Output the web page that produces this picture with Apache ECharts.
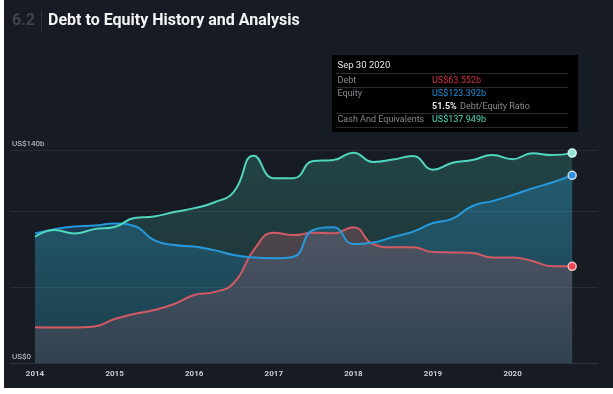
<!DOCTYPE html>
<html><head><meta charset="utf-8">
<script src="https://cdn.jsdelivr.net/npm/echarts@6/dist/echarts.min.js"></script>
<style>html,body{margin:0;padding:0;background:#ffffff;}#c{position:absolute;left:4px;top:0;width:609px;height:388px;}</style>
</head><body><div id="c"></div><script>
// ---- data (US$ billions, quarterly) ----
const dates = ['2013-12-31','2014-03-31','2014-06-30','2014-09-30','2014-12-31','2015-03-31','2015-06-30','2015-09-30',
  '2015-12-31','2016-03-31','2016-06-30','2016-09-30','2016-12-31','2017-03-31','2017-06-30','2017-09-30',
  '2017-12-31','2018-03-31','2018-06-30','2018-09-30','2018-12-31','2019-03-31','2019-06-30','2019-09-30',
  '2019-12-31','2020-03-31','2020-06-30','2020-09-30'];
const debt = [23.5,23.3,23.3,24.0,28.9,32.2,34.8,38.8,44.7,46.6,52.6,74.2,85.6,84.1,85.6,85.2,89.2,78.2,76.0,76.0,72.9,72.7,72.3,69.4,69.4,67.0,63.6,63.552];
const equity = [85.2,88.0,89.7,90.3,91.7,90.0,80.8,77.5,76.5,74.2,71.0,69.3,68.8,69.8,87.4,89.2,78.2,79.2,82.8,86.3,92.0,94.9,103.2,106.4,110.4,114.8,118.6,123.392];
const cash = [83.0,87.4,85.1,88.0,89.4,95.3,96.3,99.2,101.8,105.5,112.5,136.3,121.5,121.5,132.7,133.4,138.2,132.1,133.7,136.0,127.1,131.6,133.4,136.7,134.0,137.8,136.7,137.949];
const yearTicks = [2014,2015,2016,2017,2018,2019,2020];
const yTickLabels = {0:'US$0', 140:'US$140b'};
const titleNum = '6.2';
const titleText = 'Debt to Equity History and Analysis';

// ---- helpers ----
function decYear(s){
  const d = new Date(s + 'T00:00:00Z');
  const y = d.getUTCFullYear();
  const start = Date.UTC(y,0,1), end = Date.UTC(y+1,0,1);
  return y + (d.getTime() - start + 86400000) / (end - start);
}
const xs = dates.map(decYear);
function pairs(arr, color){
  return arr.map((v,i)=> i === arr.length-1
    ? {value:[xs[i],v], symbol:'circle', symbolSize:8, itemStyle:{color:color.dot, borderColor:color.border, borderWidth:1.5}}
    : [xs[i],v]);
}
const C = {
  cash:{line:'#4fd6bd', dot:'#8fe6d6', border:'#d8f4ee'},
  equity:{line:'#2599dc', dot:'#2a8fe0', border:'#c9d9ea'},
  debt:{line:'#d35a64', dot:'#f0414d', border:'#f3c4c6'}
};
const SM = 0.5;
function grad(top, bottom){
  return new echarts.graphic.LinearGradient(0,0,0,1,[{offset:0,color:top},{offset:1,color:bottom}]);
}
function areaSeries(name, arr, fill){
  return {name:name+'_a', type:'line', data:arr.map((v,i)=>[xs[i],v]), smooth:SM,
    symbol:'none', lineStyle:{width:0}, areaStyle:{color:fill, opacity:1}, silent:true, z:1};
}
function lineSeries(name, arr, col, z){
  return {name:name, type:'line', data:pairs(arr,col), smooth:SM,
    symbol:'none', lineStyle:{width:2, color:col.line}, itemStyle:{color:col.line}, z:z};
}
const last = dates.length-1;
const months = ['Jan','Feb','Mar','Apr','May','Jun','Jul','Aug','Sep','Oct','Nov','Dec'];
const ld = new Date(dates[last]+'T00:00:00Z');
const tipDate = months[ld.getUTCMonth()] + ' ' + ld.getUTCDate() + ' ' + ld.getUTCFullYear();
const fmt = v => 'US$' + v.toFixed(3) + 'b';
const ratio = (debt[last]/equity[last]*100).toFixed(1) + '%';

const F = 'Roboto, "Noto Sans", sans-serif';
const tx = 328, ty = 55, tw = 246, th = 77;
const labX = tx + 5.5, valX = tx + 100;
function hline(y){ return {type:'line', shape:{x1:tx+4.5, y1:y, x2:tx+236, y2:y}, style:{stroke:'#2b2b2b', lineWidth:1}, silent:true}; }
function t(x,y,text,fill,size,weight){ return {type:'text', x:x, y:y, style:{text:text, fill:fill, font:(weight||'normal')+' '+(size||9)+'px '+F, verticalAlign:'middle', textAlign:'left'}, silent:true}; }

const chart = echarts.init(document.getElementById('c'), null, {renderer:'canvas'});
chart.setOption({
  backgroundColor:'#161b24',
  animation:false,
  grid:{left:6, right:15, top:150, bottom:25, containLabel:false},
  xAxis:{type:'value', min:2013.686, max:2021.073, offset:2,
    axisLine:{show:true, lineStyle:{color:'#2f343d', width:1}},
    axisTick:{show:false}, splitLine:{show:false},
    axisLabel:{customValues:yearTicks, formatter:v=>String(Math.round(v)), color:'#c9cdd3', fontSize:8, fontWeight:'bold', fontFamily:F, margin:5}},
  yAxis:{type:'value', min:0, max:140, interval:50,
    axisLine:{show:false}, axisTick:{show:false},
    splitLine:{show:true, showMinLine:false, lineStyle:{color:'#272c35', width:1}},
    axisLabel:{inside:true, formatter:v=>yTickLabels[v]||'', color:'#cdd1d6', fontSize:8, fontFamily:F, margin:2, verticalAlign:'bottom', padding:[0,0,2,0]}},
  series:[
    areaSeries('Cash', cash, grad('rgba(80,210,180,0.22)','rgba(80,210,180,0.10)')),
    areaSeries('Equity', equity, grad('rgba(35,145,205,0.32)','rgba(35,145,205,0.16)')),
    areaSeries('Debt', debt, grad('rgba(150,85,95,0.40)','rgba(120,80,95,0.22)')),
    lineSeries('Debt', debt, C.debt, 3),
    lineSeries('Equity', equity, C.equity, 4),
    lineSeries('Cash', cash, C.cash, 5)
  ],
  graphic:[
    t(8, 21, titleNum, '#3f454e', 16, 'bold'),
    {type:'line', shape:{x1:37.5, y1:10, x2:37.5, y2:32}, style:{stroke:'#2c313a', lineWidth:1}, silent:true},
    t(44, 21, titleText, '#f1f3f5', 16, 'bold'),
    {type:'rect', shape:{x:tx, y:ty, width:tw, height:th}, style:{fill:'#000000'}, silent:true},
    t(labX, 66, tipDate, '#e6e6e6', 9.5),
    hline(73.5),
    t(labX, 80.5, 'Debt', '#85898f', 9),
    t(valX, 80.5, fmt(debt[last]), '#d8323e', 9),
    hline(87.5),
    t(labX, 93.5, 'Equity', '#85898f', 9),
    t(valX, 93.5, fmt(equity[last]), '#1f8fd6', 9),
    {type:'text', x:valX, y:106.5, style:{text:'{b|'+ratio+'} {g|Debt/Equity Ratio}', verticalAlign:'middle', textAlign:'left',
      rich:{b:{fill:'#e8e8e8', font:'bold 9px '+F}, g:{fill:'#85898f', font:'9px '+F}}}, silent:true},
    hline(113.5),
    t(labX, 120, 'Cash And Equivalents', '#85898f', 9),
    t(valX, 120, fmt(cash[last]), '#4fdcc0', 9),
    hline(127.5)
  ]
});
</script></body></html>
